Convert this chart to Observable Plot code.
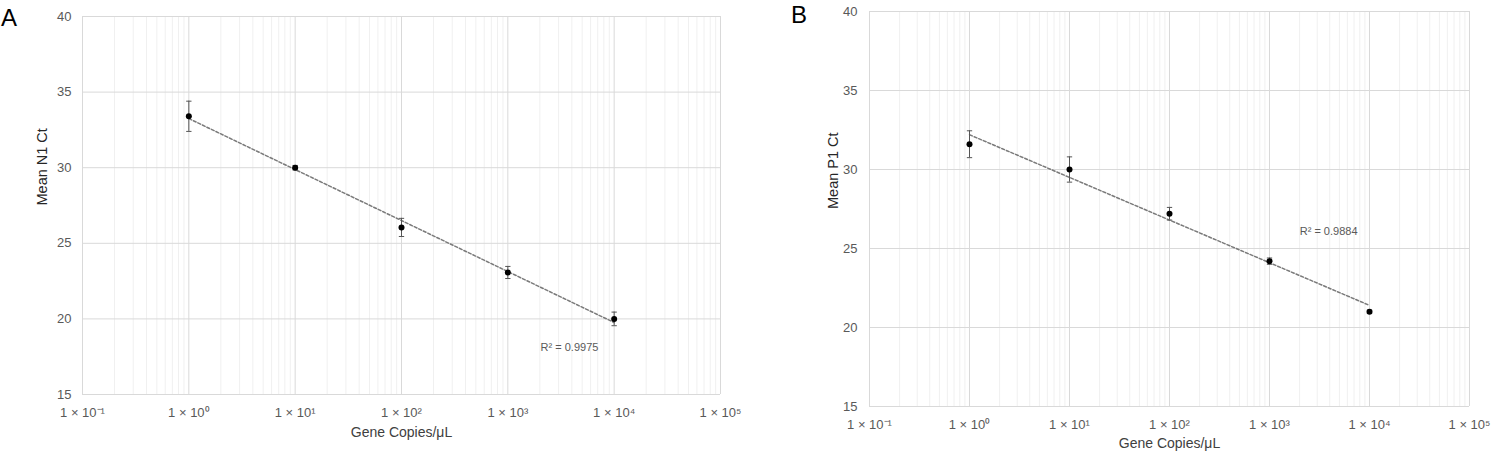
<!DOCTYPE html>
<html>
<head>
<meta charset="utf-8">
<script src="https://cdn.jsdelivr.net/npm/d3@7"></script>
<script src="https://cdn.jsdelivr.net/npm/@observablehq/plot@0.6"></script>
<style>
  body { margin: 0; background: #fff; font-family: "Liberation Sans", Arial, sans-serif; }
  #wrap { position: relative; width: 1500px; height: 451px; overflow: hidden; }
  .panel { position: absolute; top: 0; }
  .plabel { position: absolute; font-size: 24px; color: #000; font-family: "Liberation Sans", Arial, sans-serif; }
</style>
</head>
<body>
<div id="wrap">
  <div class="panel" id="pa" style="left:0px"></div>
  <div class="panel" id="pb" style="left:750px"></div>
  <div class="plabel" style="left:1px; top:4px">A</div>
  <div class="plabel" style="left:791px; top:1px">B</div>
</div>
<script>
// ---- data ----
const concentrations = [1, 10, 100, 1000, 10000];
const n1Mean = [33.4, 30.0, 26.05, 23.07, 20.0];
const n1Err  = [1.0, 0.15, 0.6, 0.4, 0.45];
const p1Mean = [31.6, 30.0, 27.2, 24.2, 21.0];
const p1Err  = [0.85, 0.8, 0.4, 0.2, 0.1];
const yTicks = [15, 20, 25, 30, 35, 40];
const xTicks = [0.1, 1, 10, 100, 1000, 10000, 100000];
const xTickLabels = ["1 × 10⁻¹", "1 × 10⁰", "1 × 10¹", "1 × 10²", "1 × 10³", "1 × 10⁴", "1 × 10⁵"];
const yTitles = ["Mean N1 Ct", "Mean P1 Ct"];
const xTitle = "Gene Copies/μL";
const r2Labels = ["R² = 0.9975", "R² = 0.9884"];
const r2Pos = [{x: 3800, y: 18.1}, {x: 3900, y: 26.1}];

const FONT = "Liberation Sans, Arial, sans-serif";
const labelMap = new Map(xTicks.map((t, i) => [t, xTickLabels[i]]));
const minorTicks = xTicks.slice(0, -1).flatMap(d => [2,3,4,5,6,7,8,9].map(k => +(k * d).toPrecision(3)));

const capSymbol = {
  draw(ctx, size) {
    const w = Math.sqrt(size) / 2;
    ctx.moveTo(-w, 0); ctx.lineTo(w, 0);
  }
};

function fit(xs, ys) {
  const lx = xs.map(Math.log10);
  const mx = d3.mean(lx), my = d3.mean(ys);
  const b = d3.sum(lx.map((v, i) => (v - mx) * (ys[i] - my))) / d3.sum(lx.map(v => (v - mx) ** 2));
  const a = my - b * mx;
  return [xs[0], xs[xs.length - 1]].map(x => ({x, y: a + b * Math.log10(x)}));
}

function panel(means, errs, idx, m) {
  const data = concentrations.map((c, i) => ({x: c, y: means[i], lo: means[i] - errs[i], hi: means[i] + errs[i]}));
  const line = fit(concentrations, means);
  return Plot.plot({
    width: 750, height: 451,
    marginLeft: m.left, marginRight: m.right, marginTop: m.top, marginBottom: m.bottom,
    style: {fontFamily: FONT, background: "transparent"},
    x: {type: "log", domain: [0.1, 100000]},
    y: {domain: [15, 40]},
    marks: [
      Plot.ruleX(minorTicks, {stroke: "#f0f0f0", strokeWidth: 1}),
      Plot.ruleX(xTicks, {stroke: "#d9d9d9", strokeWidth: 1}),
      Plot.ruleY(yTicks, {stroke: "#d9d9d9", strokeWidth: 1}),
      Plot.axisY(yTicks, {tickSize: 0, tickPadding: m.ypad, fontSize: 13, fill: "#595959", label: null}),
      Plot.axisX(xTicks, {tickSize: 0, tickPadding: m.xpad, fontSize: 13, fill: "#595959", label: null, tickFormat: d => labelMap.get(d)}),
      Plot.text([xTitle], {text: d => d, frameAnchor: "bottom", lineAnchor: "middle", dy: m.xtitle, fontSize: 14, fill: "#404040"}),
      Plot.text([yTitles[idx]], {text: d => d, frameAnchor: "left", lineAnchor: "middle", dx: -m.ytitle, rotate: -90, fontSize: 14.5, fill: "#262626"}),
      Plot.line(line, {x: "x", y: "y", stroke: "#7a7a7a", strokeWidth: 1.5, strokeDasharray: "3,2"}),
      Plot.ruleX(data, {x: "x", y1: "lo", y2: "hi", stroke: "#555", strokeWidth: 1}),
      Plot.dot(data, {x: "x", y: "lo", symbol: capSymbol, r: 3, stroke: "#555", fill: "none", strokeWidth: 1}),
      Plot.dot(data, {x: "x", y: "hi", symbol: capSymbol, r: 3, stroke: "#555", fill: "none", strokeWidth: 1}),
      Plot.dot(data, {x: "x", y: "y", r: 3, fill: "#000", stroke: "none"}),
      Plot.text([r2Pos[idx]], {x: "x", y: "y", text: () => r2Labels[idx], fontSize: 11, fill: "#595959"})
    ]
  });
}

document.getElementById("pa").append(panel(n1Mean, n1Err, 0, {left: 82, right: 30, top: 16, bottom: 57, ypad: 11, xpad: 13, xtitle: 38, ytitle: 40}));
document.getElementById("pb").append(panel(p1Mean, p1Err, 1, {left: 119, right: 31, top: 11, bottom: 45, ypad: 12, xpad: 13, xtitle: 37, ytitle: 36}));
</script>
</body>
</html>
